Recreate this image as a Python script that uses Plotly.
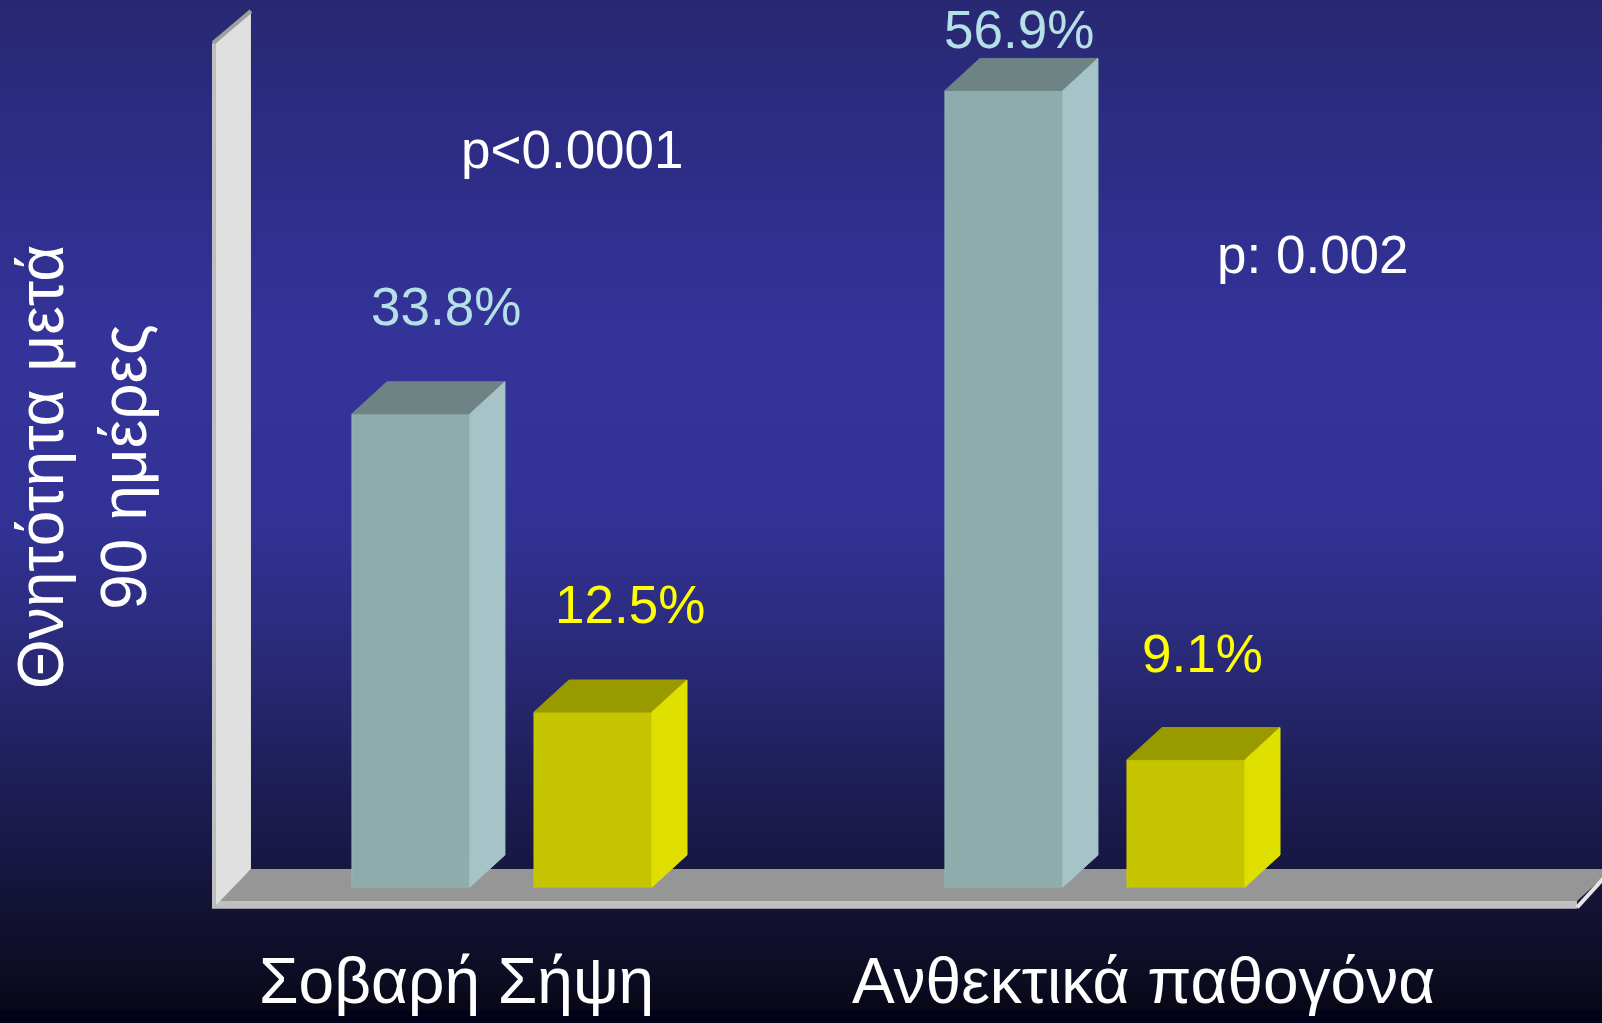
import plotly.graph_objects as go

# data
categories = ["Σοβαρή Σήψη", "Ανθεκτικά παθογόνα"]
series_a = [33.8, 56.9]      # teal columns
series_b = [12.5, 9.1]       # yellow columns
labels_a = ["33.8%", "56.9%"]
labels_b = ["12.5%", "9.1%"]
p_values = ["p<0.0001", "p: 0.002"]
y_title = "Θνητότητα μετά<br>90 ημέρες"

W, H = 1602, 1023
FONT = "Liberation Sans, Arial, sans-serif"

# fake 3d geometry (in axis units)
X_RANGE = [-0.8465, 1.855]
Y_RANGE = [-9.71, 63.36]
DX, DY = 0.059, 2.29
BW = 0.199
OFF = 0.1535
WALL_X = -0.4823
WALL_TOP = 60.29
FLOOR_Y = -1.0
FLOOR_END = 1.813

TEAL = dict(front="#8eacac", top="#6e8484", side="#a6c4c8", edge="#98b6b6")
YELL = dict(front="#c4c400", top="#999900", side="#e0e000", edge="#cccc00")

fig = go.Figure()


def face(xs, ys, color):
    fig.add_trace(go.Scatter(x=xs + [xs[0]], y=ys + [ys[0]], mode="lines",
                             fill="toself", fillcolor=color,
                             line=dict(color=color, width=1),
                             hoverinfo="skip", showlegend=False))


def columns(vals, offset, pal, name):
    xs = list(range(len(vals)))
    fig.add_trace(go.Bar(x=xs, y=vals, width=BW, offset=offset - BW / 2,
                         marker=dict(color=pal["front"], line=dict(color=pal["edge"], width=1)),
                         name=name, showlegend=False))
    for i, v in zip(xs, vals):
        xl = i + offset - BW / 2
        xr = xl + BW
        face([xl, xr, xr + DX, xl + DX], [v, v, v + DY, v + DY], pal["top"])
        face([xr, xr, xr + DX, xr + DX], [0, v, v + DY, DY], pal["side"])


columns(series_a, -OFF, TEAL, "a")
columns(series_b, OFF, YELL, "b")

# background gradient
stops = [(0, (40, 40, 114)), (100, (43, 43, 128)), (330, (51, 51, 153)), (520, (50, 50, 150)),
         (650, (42, 42, 122)), (780, (30, 30, 88)), (850, (24, 24, 70)), (915, (18, 18, 50)),
         (980, (12, 12, 34)), (1008, (8, 8, 24))]


def col_at(y):
    for (y0, c0), (y1, c1) in zip(stops, stops[1:]):
        if y0 <= y <= y1:
            t = (y - y0) / (y1 - y0)
            return "rgb(%d,%d,%d)" % tuple(round(a + (b - a) * t) for a, b in zip(c0, c1))
    return "rgb(8,8,24)"


shapes = []
step = 6
for y in range(0, 1010, step):
    shapes.append(dict(type="rect", xref="paper", yref="paper", x0=0, x1=1,
                       y0=1 - (y + step + 1) / H, y1=1 - y / H, fillcolor=col_at(y + step / 2),
                       line=dict(width=0), layer="below"))
shapes.append(dict(type="rect", xref="paper", yref="paper", x0=0, x1=1, y0=0, y1=1 - 1010 / H,
                   fillcolor="#02021a", line=dict(width=0), layer="below"))


def path(pts):
    return "M " + " L ".join("%f,%f" % p for p in pts) + " Z"


# floor
shapes.append(dict(type="path", xref="x", yref="y", layer="below", fillcolor="#969696",
                   line=dict(width=0),
                   path=path([(WALL_X, FLOOR_Y), (FLOOR_END, FLOOR_Y), (FLOOR_END + DX, FLOOR_Y + DY),
                              (WALL_X + DX, FLOOR_Y + DY)])))
shapes.append(dict(type="path", xref="x", yref="y", layer="below", fillcolor="#c0c0c0",
                   line=dict(width=0),
                   path=path([(WALL_X, FLOOR_Y - 0.55), (FLOOR_END, FLOOR_Y - 0.55), (FLOOR_END, FLOOR_Y),
                              (WALL_X, FLOOR_Y)])))
shapes.append(dict(type="line", xref="x", yref="y", layer="below", x0=FLOOR_END, y0=FLOOR_Y - 0.45,
                   x1=FLOOR_END + DX, y1=FLOOR_Y + DY, line=dict(color="#e6e6e6", width=4)))
# side wall
shapes.append(dict(type="path", xref="x", yref="y", layer="below", fillcolor="#c0c0c0",
                   line=dict(width=0),
                   path=path([(WALL_X - 0.0067, FLOOR_Y - 0.55), (WALL_X - 0.0067, WALL_TOP), (WALL_X, WALL_TOP),
                              (WALL_X, FLOOR_Y - 0.55)])))
shapes.append(dict(type="path", xref="x", yref="y", layer="below", fillcolor="#e0e0e0",
                   line=dict(width=0),
                   path=path([(WALL_X, FLOOR_Y - 0.3), (WALL_X, WALL_TOP), (WALL_X + DX, WALL_TOP + DY),
                              (WALL_X + DX, FLOOR_Y + DY)])))
shapes.append(dict(type="line", xref="x", yref="y", layer="below", x0=WALL_X - 0.005, y0=WALL_TOP,
                   x1=WALL_X + DX, y1=WALL_TOP + DY, line=dict(color="#a0a0a0", width=4)))

annotations = []
# value labels
shift_a = [(18, 75), (-2, 29)]
shift_b = [(19, 75), (-1, 74)]
for vals, labs, off, color, shifts in [(series_a, labels_a, -OFF, "#b4e0e6", shift_a),
                                       (series_b, labels_b, OFF, "#ffff00", shift_b)]:
    for i, (v, t) in enumerate(zip(vals, labs)):
        annotations.append(dict(x=i + off + DX / 2, y=v + DY, xref="x", yref="y", text=t,
                                xanchor="center", yanchor="middle",
                                showarrow=False, xshift=shifts[i][0], yshift=shifts[i][1],
                                font=dict(size=53, color=color, family=FONT)))
# p values
for t, (px, py) in zip(p_values, [(572, 150), (1313, 254)]):
    annotations.append(dict(x=px / W, y=1 - py / H, xref="paper", yref="paper", text=t,
                            xanchor="center", yanchor="middle",
                            showarrow=False, font=dict(size=53, color="white", family=FONT)))
# category labels
for i, (c, xs) in enumerate(zip(categories, [-45, 49])):
    annotations.append(dict(x=i, y=1 - 981 / H, xref="x", yref="paper", text=c, xshift=xs,
                            xanchor="center", yanchor="middle",
                            showarrow=False, font=dict(size=64, color="white", family=FONT)))
# axis title
annotations.append(dict(x=82 / W, y=1 - 467 / H, xref="paper", yref="paper", text=y_title,
                        textangle=-90, showarrow=False, align="center",
                        xanchor="center", yanchor="middle",
                        font=dict(size=64, color="white", family=FONT)))

fig.update_layout(
    width=W, height=H,
    margin=dict(l=0, r=0, t=0, b=0),
    paper_bgcolor="#02021a", plot_bgcolor="rgba(0,0,0,0)",
    barmode="overlay",
    xaxis=dict(range=X_RANGE, visible=False, fixedrange=True),
    yaxis=dict(range=Y_RANGE, visible=False, fixedrange=True),
    shapes=shapes, annotations=annotations,
    showlegend=False,
)

fig.write_html("out.html", config={"displayModeBar": False},
               post_script="document.body.style.margin='0';")
